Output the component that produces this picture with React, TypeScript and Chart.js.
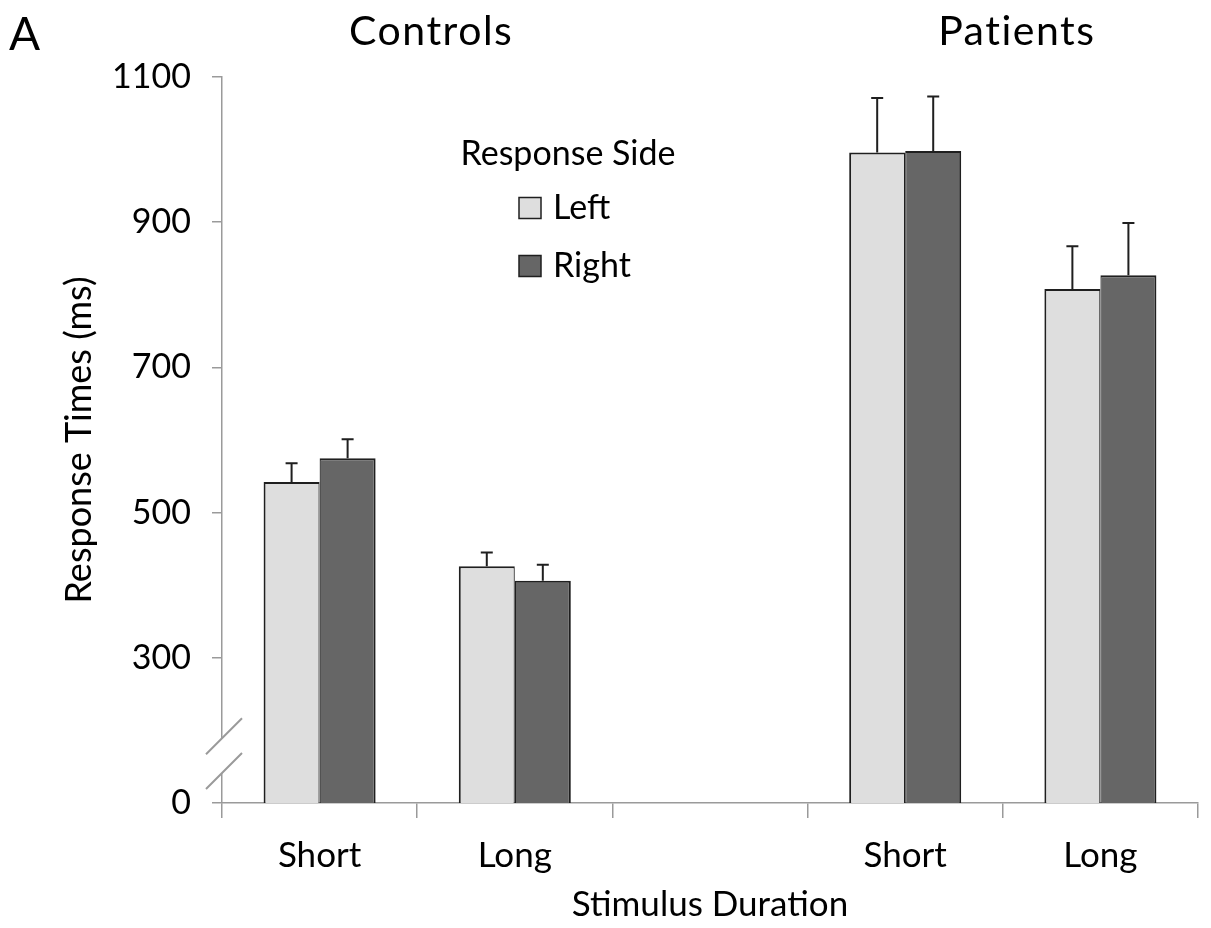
import React, { useEffect, useRef } from 'react';
import { Chart, registerables } from 'chart.js';

Chart.register(...registerables);

const categories = ['Short', 'Long', '', 'Short', 'Long'];
const groupTitles = ['Controls', 'Patients'];
const groupMembers = [[0, 1], [3, 4]];
const seriesNames = ['Left', 'Right'];
const leftMeans = [542, 426, null, 996, 808];
const leftErrors = [26, 19, null, 75, 59];
const rightMeans = [575, 406, null, 998, 827];
const rightErrors = [26, 22, null, 75, 72];
const yTickValues = [100, 300, 500, 700, 900, 1100];
const yTickLabels = ['0', '300', '500', '700', '900', '1100'];
const legendTitle = 'Response Side';
const panelLetter = 'A';

const FAMILY = 'Lato, "Open Sans", sans-serif';
const LEFT_FILL = '#dedede';
const RIGHT_FILL = '#666666';
const EDGE = '#1f1f1f';
const AXIS = '#9a9a9a';

const errorBarPlugin = {
  id: 'errorBars',
  afterDatasetsDraw(chart: any) {
    const { ctx } = chart;
    const y = chart.scales.y;
    chart.data.datasets.forEach((ds: any, di: number) => {
      const meta = chart.getDatasetMeta(di);
      meta.data.forEach((bar: any, i: number) => {
        const v = ds.data[i];
        const e = ds.errors[i];
        if (v == null || e == null) return;
        const top = y.getPixelForValue(v + e);
        ctx.save();
        ctx.strokeStyle = EDGE;
        ctx.lineWidth = 2;
        ctx.beginPath();
        ctx.moveTo(bar.x, bar.y);
        ctx.lineTo(bar.x, top);
        ctx.moveTo(bar.x - 6, top);
        ctx.lineTo(bar.x + 6, top);
        ctx.stroke();
        ctx.restore();
      });
    });
  },
};

const decorPlugin = {
  id: 'decor',
  afterDraw(chart: any) {
    const { ctx, chartArea } = chart;
    const y = chart.scales.y;
    const x = chart.scales.x;
    const x0 = chartArea.left;
    // axis break
    const c1 = y.getPixelForValue(192);
    const c2 = y.getPixelForValue(144);
    ctx.save();
    ctx.fillStyle = '#ffffff';
    ctx.beginPath();
    ctx.moveTo(x0 - 16, c1 + 18);
    ctx.lineTo(x0 + 20, c1 - 18);
    ctx.lineTo(x0 + 20, c2 - 18);
    ctx.lineTo(x0 - 16, c2 + 18);
    ctx.closePath();
    ctx.fill();
    ctx.strokeStyle = AXIS;
    ctx.lineWidth = 2;
    ctx.beginPath();
    ctx.moveTo(x0 - 16, c1 + 18);
    ctx.lineTo(x0 + 20, c1 - 18);
    ctx.moveTo(x0 - 16, c2 + 18);
    ctx.lineTo(x0 + 20, c2 - 18);
    ctx.stroke();

    // panel letter
    ctx.fillStyle = '#000';
    ctx.textAlign = 'left';
    ctx.textBaseline = 'alphabetic';
    ctx.font = `46px ${FAMILY}`;
    ctx.fillText(panelLetter, 9, 50);

    // group titles
    ctx.textAlign = 'center';
    ctx.font = `41px ${FAMILY}`;
    (ctx as any).letterSpacing = '1.5px';
    groupTitles.forEach((t, gi) => {
      const [a, b] = groupMembers[gi];
      const cx = (x.getPixelForValue(a) + x.getPixelForValue(b)) / 2 + 14;
      ctx.fillText(t, cx, 45);
    });
    (ctx as any).letterSpacing = '0px';

    // legend
    ctx.font = `34px ${FAMILY}`;
    ctx.textBaseline = 'middle';
    ctx.textAlign = 'center';
    ctx.fillText(legendTitle, x0 + 346, 154);
    const fills = [LEFT_FILL, RIGHT_FILL];
    seriesNames.forEach((n, i) => {
      const cy = 208 + i * 58;
      ctx.fillStyle = fills[i];
      ctx.fillRect(x0 + 297, cy - 10.5, 22, 21);
      ctx.strokeStyle = EDGE;
      ctx.lineWidth = 1.5;
      ctx.strokeRect(x0 + 297, cy - 10.5, 22, 21);
      ctx.fillStyle = '#000';
      ctx.textAlign = 'left';
      ctx.fillText(n, x0 + 331, cy);
    });
    ctx.restore();
  },
};

export default function App() {
  const canvasRef = useRef<HTMLCanvasElement | null>(null);

  useEffect(() => {
    if (!canvasRef.current) return;
    const chart = new Chart(canvasRef.current, {
      type: 'bar',
      data: {
        labels: categories,
        datasets: [
          {
            label: seriesNames[0],
            data: leftMeans,
            errors: leftErrors,
            backgroundColor: LEFT_FILL,
            borderColor: EDGE,
            borderWidth: { top: 2, left: 2, right: 1.2, bottom: 0 },
            borderSkipped: false,
            categoryPercentage: 0.574,
            barPercentage: 1.0,
          } as any,
          {
            label: seriesNames[1],
            data: rightMeans,
            errors: rightErrors,
            backgroundColor: RIGHT_FILL,
            borderColor: EDGE,
            borderWidth: { top: 2, left: 1.2, right: 2, bottom: 0 },
            borderSkipped: false,
            categoryPercentage: 0.574,
            barPercentage: 1.0,
          } as any,
        ],
      },
      options: {
        animation: false,
        responsive: true,
        maintainAspectRatio: false,
        devicePixelRatio: 1,
        layout: { padding: { top: 77, right: 13, left: 0, bottom: 0 } },
        plugins: {
          legend: { display: false },
          tooltip: { enabled: false },
        },
        scales: {
          x: {
            offset: true,
            afterFit: (s: any) => {
              s.height = 125;
            },
            grid: {
              offset: true,
              drawOnChartArea: false,
              drawTicks: true,
              tickLength: 15,
              color: AXIS,
              lineWidth: 1.5,
            },
            border: { color: AXIS, width: 1.5 },
            ticks: {
              font: { family: FAMILY, size: 35 },
              color: '#000',
              padding: 17,
              maxRotation: 0,
              autoSkip: false,
            },
            title: {
              display: true,
              text: 'Stimulus Duration',
              font: { family: FAMILY, size: 35 },
              color: '#000',
              padding: { top: 0, bottom: 2 },
            },
          },
          y: {
            min: 100,
            max: 1100,
            afterFit: (s: any) => {
              s.width = 222;
            },
            afterBuildTicks: (s: any) => {
              s.ticks = yTickValues.map((v) => ({ value: v }));
            },
            ticks: {
              callback: (v: any) => {
                const i = yTickValues.indexOf(Number(v));
                return i >= 0 ? yTickLabels[i] : '';
              },
              font: { family: FAMILY, size: 34 },
              color: '#000',
              padding: 21,
            },
            grid: {
              drawOnChartArea: false,
              drawTicks: true,
              tickLength: 10,
              color: AXIS,
              lineWidth: 1.5,
            },
            border: { color: AXIS, width: 1.5 },
            title: {
              display: true,
              text: 'Response Times (ms)',
              font: { family: FAMILY, size: 36 },
              color: '#000',
              padding: { top: 58, bottom: 0 },
            },
          },
        },
      },
      plugins: [errorBarPlugin, decorPlugin],
    } as any);
    return () => chart.destroy();
  }, []);

  return (
    <div style={{ position: 'absolute', left: 0, top: 0, width: 1211, height: 928, background: '#fff' }}>
      <canvas ref={canvasRef} />
    </div>
  );
}
